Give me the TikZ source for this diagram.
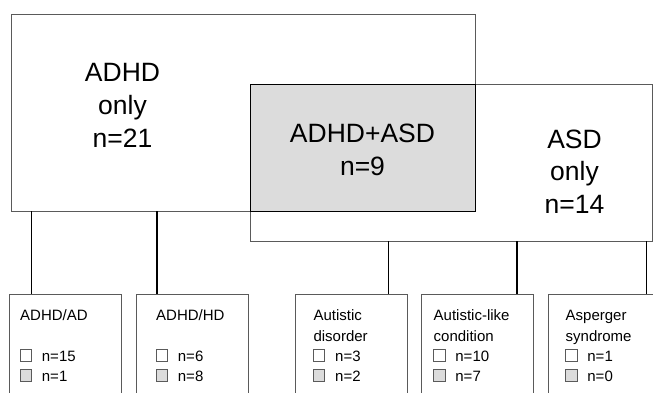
\documentclass[tikz,border=0pt]{standalone}
\usepackage{fontspec}
\setmainfont{Liberation Sans}
\definecolor{boxgray}{RGB}{220,220,220}
\definecolor{edge}{RGB}{90,90,90}
\tikzset{
  bigbox/.style={draw=edge, line width=0.9pt, fill=white, anchor=north west, inner sep=0pt, outer sep=0pt},
  smallbox/.style={draw=edge, line width=0.9pt, fill=white, anchor=north west, inner sep=0pt, outer sep=0pt,
    minimum width=112pt, minimum height=120pt},
  bigtxt/.style={anchor=base, inner sep=0pt, font=\fontsize{26.5}{32}\selectfont},
  smalltxt/.style={anchor=base west, inner sep=0pt, font=\fontsize{15}{19}\selectfont},
  chk/.style={draw=edge, line width=0.7pt, anchor=south west, inner sep=0pt, outer sep=0pt, minimum width=11.5pt, minimum height=12pt},
  conn/.style={draw=black, line width=1.1pt}
}
\begin{document}
\begin{tikzpicture}[x=1pt,y=-1pt]
\clip (0,0) rectangle (653,392);
\fill[white] (0,0) rectangle (653,392);
% top boxes
\node[bigbox, minimum width=464pt, minimum height=196.3pt] (adhd) at (11,14.7) {};
\node[bigbox, minimum width=402pt, minimum height=157pt] (asd) at (250,84.3) {};
\node[bigbox, fill=boxgray, draw=black, minimum width=225pt, minimum height=126.7pt] (both) at (250,84.3) {};
% top labels
\node[bigtxt] (a1) at (122.5,81.7) {ADHD};
\node[bigtxt] (a2) at (122.5,114.5) {only};
\node[bigtxt] (a3) at (122.5,147.3) {n=21};
\node[bigtxt] (m1) at (362.5,142) {ADHD+ASD};
\node[bigtxt] (m2) at (362.5,175) {n=9};
\node[bigtxt] (s1) at (574.5,148.3) {ASD};
\node[bigtxt] (s2) at (574.5,180.8) {only};
\node[bigtxt] (s3) at (574.5,213.3) {n=14};
% bottom boxes
\node[smallbox] (b1) at (9.3,294) {};
\node[smallbox] (b2) at (136.7,294) {};
\node[smallbox] (b3) at (295.7,294) {};
\node[smallbox] (b4) at (421.7,294) {};
\node[smallbox] (b5) at (548.3,294) {};
% connectors
\coordinate (k1) at (31.7,294);
\coordinate (k2) at (157,294);
\coordinate (k3) at (388.7,294);
\coordinate (k4) at (517,294);
\coordinate (k5) at (646.7,294);
\draw[conn] (adhd.south -| k1) -- (k1);
\draw[conn] (adhd.south -| k2) -- (k2);
\draw[conn] (asd.south -| k3) -- (k3);
\draw[conn] (asd.south -| k4) -- (k4);
\draw[conn] (asd.south -| k5) -- (k5);
% box contents
\node[smalltxt] (t1a) at (20,320) {ADHD/AD};
\node[chk] (c1a) at (20,361.7) {};
\node[smalltxt] (n1a) at (41.7,361.5) {n=15};
\node[chk, fill=boxgray] (c1b) at (20,381.7) {};
\node[smalltxt] (n1b) at (41.7,381.5) {n=1};

\node[smalltxt] (t2a) at (156,320) {ADHD/HD};
\node[chk] (c2a) at (156,361.7) {};
\node[smalltxt] (n2a) at (177.7,361.5) {n=6};
\node[chk, fill=boxgray] (c2b) at (156,381.7) {};
\node[smalltxt] (n2b) at (177.7,381.5) {n=8};

\node[smalltxt] (t3a) at (313.3,320) {Autistic};
\node[smalltxt] (t3b) at (313.3,341.2) {disorder};
\node[chk] (c3a) at (313.3,361.2) {};
\node[smalltxt] (n3a) at (335,361) {n=3};
\node[chk, fill=boxgray] (c3b) at (313.3,381.2) {};
\node[smalltxt] (n3b) at (335,381) {n=2};

\node[smalltxt] (t4a) at (433.5,320) {Autistic-like};
\node[smalltxt] (t4b) at (433.5,341.2) {condition};
\node[chk] (c4a) at (433.5,361.2) {};
\node[smalltxt] (n4a) at (455.2,361) {n=10};
\node[chk, fill=boxgray] (c4b) at (433.5,381.2) {};
\node[smalltxt] (n4b) at (455.2,381) {n=7};

\node[smalltxt] (t5a) at (565.5,320) {Asperger};
\node[smalltxt] (t5b) at (565.5,341.2) {syndrome};
\node[chk] (c5a) at (565.5,361.2) {};
\node[smalltxt] (n5a) at (587.2,361) {n=1};
\node[chk, fill=boxgray] (c5b) at (565.5,381.2) {};
\node[smalltxt] (n5b) at (587.2,381) {n=0};
\end{tikzpicture}
\end{document}
